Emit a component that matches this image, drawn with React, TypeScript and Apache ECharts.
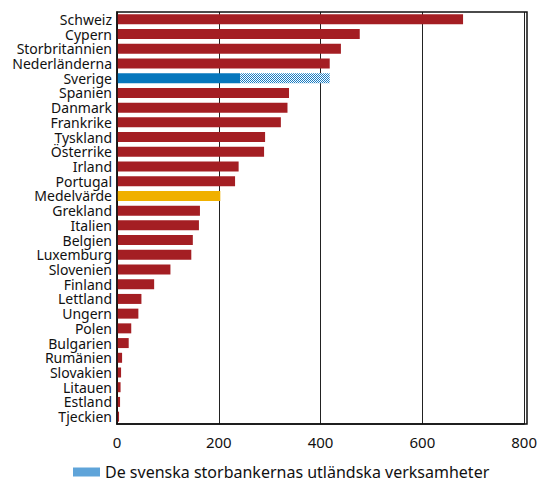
import React, { useEffect, useRef } from "react";
import * as echarts from "echarts";

// Länder, sorterade som i diagrammet (uppifrån och ned)
const categories = [
  "Schweiz", "Cypern", "Storbritannien", "Nederländerna", "Sverige", "Spanien",
  "Danmark", "Frankrike", "Tyskland", "Österrike", "Irland", "Portugal",
  "Medelvärde", "Grekland", "Italien", "Belgien", "Luxemburg", "Slovenien",
  "Finland", "Lettland", "Ungern", "Polen", "Bulgarien", "Rumänien",
  "Slovakien", "Litauen", "Estland", "Tjeckien",
];

// Huvudvärde per land
const values = [
  680, 477, 440, 418, 242, 338,
  335, 322, 291, 289, 239, 232,
  203, 163, 161, 149, 146, 105,
  73, 48, 42, 28, 23, 10,
  8, 7, 6, 4,
];

// Tillägg för de svenska storbankernas utländska verksamheter (endast Sverige)
const foreignOps: Record<string, number> = { Sverige: 176 };

const xTicks = [0, 200, 400, 600, 800];

const LEGEND_NAME = "De svenska storbankernas utländska verksamheter";

const RED = "#a41e23";
const BLUE = "#0677bd";
const YELLOW = "#f0b000";
const HATCH = "#1a7cc2";
const FONT = "Noto Sans";

// Rutmönster (schackruta) för den skrafferade delen
function makeChecker(): string {
  const c = document.createElement("canvas");
  c.width = 2;
  c.height = 2;
  const ctx = c.getContext("2d")!;
  ctx.fillStyle = "#ffffff";
  ctx.fillRect(0, 0, 2, 2);
  ctx.fillStyle = HATCH;
  ctx.fillRect(0, 0, 1, 1);
  ctx.fillRect(1, 1, 1, 1);
  return c.toDataURL("image/png");
}

export default function App() {
  const ref = useRef<HTMLDivElement>(null);

  useEffect(() => {
    if (!ref.current) return;
    const chart = echarts.init(ref.current, null, { renderer: "svg" });
    const checker = { image: makeChecker(), repeat: "repeat" };

    const baseData = categories.map((c, i) => ({
      value: values[i],
      itemStyle: {
        color: c === "Sverige" ? BLUE : c === "Medelvärde" ? YELLOW : RED,
      },
    }));
    const extraData = categories.map((c) =>
      foreignOps[c] !== undefined ? foreignOps[c] : "-"
    );

    chart.setOption({
      animation: false,
      textStyle: { fontFamily: FONT },
      grid: { left: 117, right: 13, top: 12, bottom: 58, containLabel: false },
      xAxis: {
        type: "value",
        min: xTicks[0],
        max: xTicks[xTicks.length - 1],
        interval: 200,
        axisLine: { show: true, lineStyle: { color: "#111", width: 1.5 } },
        axisTick: { show: false },
        axisLabel: { color: "#111", fontSize: 15, fontFamily: FONT, margin: 10 },
        splitLine: { show: true, lineStyle: { color: "#222", width: 1 } },
      },
      yAxis: {
        type: "category",
        data: categories,
        inverse: true,
        axisLine: { show: true, lineStyle: { color: "#111", width: 1.5 } },
        axisTick: { show: false },
        axisLabel: {
          color: "#111",
          fontSize: 14,
          lineHeight: 14,
          fontFamily: FONT,
          margin: 5,
          interval: 0,
        },
        splitLine: { show: false },
      },
      legend: {
        left: 73,
        top: 463,
        padding: 0,
        icon: "rect",
        itemWidth: 27,
        itemHeight: 9,
        itemGap: 13,
        data: [{ name: LEGEND_NAME, itemStyle: { color: "#5fa4d9" } }],
        textStyle: { color: "#111", fontSize: 16, lineHeight: 18, fontFamily: FONT },
      },
      series: [
        {
          name: "Värde",
          type: "bar",
          stack: "total",
          barWidth: 10,
          data: baseData,
        },
        {
          name: LEGEND_NAME,
          type: "bar",
          stack: "total",
          barWidth: 10,
          data: extraData,
          itemStyle: { color: checker },
        },
      ],
      graphic: [
        {
          type: "rect",
          shape: { x: 117, y: 12, width: 410, height: 412 },
          style: { fill: "none", stroke: "#111", lineWidth: 1.5 },
          silent: true,
          z: 10,
        },
      ],
    });

    return () => chart.dispose();
  }, []);

  return (
    <div
      ref={ref}
      style={{ position: "absolute", left: 0, top: 0, width: 540, height: 482 }}
    />
  );
}
